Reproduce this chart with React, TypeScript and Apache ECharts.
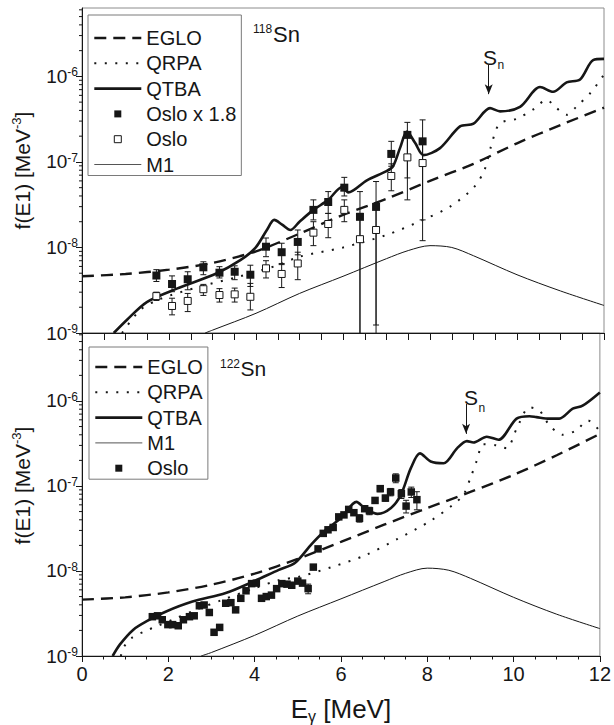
import React, { useEffect, useRef } from "react";
import * as echarts from "echarts";

const FONT = "'Liberation Sans', Arial, Helvetica, sans-serif";
const INK = "#161616";

// ---------- axes ----------
const X_MIN = 0;
const X_MAX = 12;
const X_INTERVAL = 2;
const Y_MIN = 1e-9;
const Y_MAX = 6.3e-6;
const Y_MAJOR = [1e-9, 1e-8, 1e-7, 1e-6];
const Y_MINOR = [
  2e-9, 3e-9, 4e-9, 5e-9, 6e-9, 7e-9, 8e-9, 9e-9,
  2e-8, 3e-8, 4e-8, 5e-8, 6e-8, 7e-8, 8e-8, 9e-8,
  2e-7, 3e-7, 4e-7, 5e-7, 6e-7, 7e-7, 8e-7, 9e-7,
  2e-6, 3e-6, 4e-6, 5e-6, 6e-6,
];

// ---------- 118Sn (top panel) ----------
const egloE118 = [0, 1, 2, 3, 4, 5, 6, 7, 8, 9, 10, 11, 12];
const eglo118 = [4.6e-9, 4.9e-9, 5.5e-9, 6.6e-9, 9.0e-9, 1.45e-8, 2.4e-8, 3.7e-8, 6.0e-8, 9.5e-8, 1.65e-7, 2.7e-7, 4.3e-7];

const qrpaE118 = [0.92, 1.34, 1.8, 2.72, 3.63, 4.5, 5.0, 6.0, 7.0, 7.84, 8.46, 9.0, 9.25, 9.4, 9.6, 10.0, 10.37, 10.68, 10.9, 11.14, 11.37, 11.7, 12.0];
const qrpa118 = [1e-9, 1.86e-9, 2.5e-9, 3.5e-9, 4.6e-9, 6.2e-9, 7.8e-9, 1.0e-8, 1.4e-8, 2.1e-8, 3.0e-8, 5.0e-8, 8.0e-8, 1.5e-7, 2.8e-7, 3.2e-7, 4.1e-7, 5.3e-7, 4.3e-7, 3.55e-7, 4.45e-7, 6.5e-7, 1.05e-6];

const qtbaE118 = [0.73, 1.03, 1.49, 2.18, 3.1, 3.64, 3.98, 4.25, 4.42, 4.6, 4.79, 5.0, 5.32, 5.66, 5.98, 6.12, 6.55, 7.0, 7.15, 7.31, 7.47, 7.66, 7.85, 8.23, 8.69, 9.0, 9.38, 9.61, 10.07, 10.53, 10.83, 11.14, 11.45, 11.75, 12.0];
const qtba118 = [1e-9, 1.42e-9, 2.3e-9, 3.3e-9, 5.0e-9, 7.1e-9, 9.8e-9, 1.6e-8, 2.1e-8, 1.85e-8, 1.6e-8, 2.0e-8, 2.75e-8, 3.6e-8, 5.1e-8, 4.4e-8, 6.1e-8, 7.8e-8, 8.9e-8, 1.45e-7, 2.26e-7, 1.66e-7, 1.2e-7, 1.45e-7, 2.6e-7, 2.8e-7, 4.25e-7, 3.9e-7, 4.4e-7, 7.5e-7, 6.6e-7, 8.5e-7, 9.2e-7, 1.55e-6, 1.6e-6];

const m1E118 = [2.83, 3, 4, 5, 6, 7, 7.5, 8, 8.5, 9, 10, 11, 12];
const m1_118 = [1e-9, 1.08e-9, 1.7e-9, 2.9e-9, 4.6e-9, 7.4e-9, 9.2e-9, 1.05e-8, 1.0e-8, 8.0e-9, 4.8e-9, 3.1e-9, 2.1e-9];

const osloE118 = [1.71, 2.07, 2.43, 2.79, 3.16, 3.51, 3.87, 4.23, 4.59, 4.96, 5.32, 5.66, 6.03, 6.39, 6.76, 7.11, 7.48, 7.83];
const oslo18_118 = [4.7e-9, 3.74e-9, 4.25e-9, 5.86e-9, 5.07e-9, 5.2e-9, 4.8e-9, 1.02e-8, 8.8e-9, 1.16e-8, 2.75e-8, 3.4e-8, 5.0e-8, 2.28e-8, 2.98e-8, 1.24e-7, 2.07e-7, 1.74e-7];
const oslo18Hi_118 = [5.5e-9, 4.65e-9, 5.2e-9, 6.8e-9, 5.96e-9, 6.1e-9, 6.2e-9, 1.29e-8, 1.12e-8, 1.6e-8, 3.6e-8, 4.5e-8, 6.6e-8, 4.5e-8, 5.9e-8, 1.74e-7, 2.9e-7, 3.1e-7];
const oslo18Lo_118 = [4.0e-9, 3.04e-9, 3.2e-9, 4.8e-9, 4.4e-9, 4.2e-9, 3.5e-9, 7.8e-9, 6.5e-9, 8.2e-9, 2.1e-8, 2.5e-8, 4.0e-8, 5e-10, 5e-10, 8.9e-8, 6.5e-8, 2.1e-8];
const oslo_118 = [2.7e-9, 2.07e-9, 2.37e-9, 3.25e-9, 2.78e-9, 2.83e-9, 2.65e-9, 5.7e-9, 4.9e-9, 6.5e-9, 1.49e-8, 1.88e-8, 2.75e-8, 1.25e-8, 1.6e-8, 6.85e-8, 1.13e-7, 9.7e-8];
const osloHi_118 = [3.0e-9, 2.55e-9, 2.9e-9, 3.7e-9, 3.3e-9, 3.35e-9, 3.8e-9, 7.0e-9, 6.3e-9, 8.8e-9, 2.0e-8, 2.5e-8, 3.6e-8, 2.5e-8, 3.3e-8, 9.5e-8, 2.0e-7, 1.7e-7];
const osloLo_118 = [2.4e-9, 1.63e-9, 1.78e-9, 2.75e-9, 2.3e-9, 2.3e-9, 1.86e-9, 4.4e-9, 3.4e-9, 4.2e-9, 1.05e-8, 1.3e-8, 2.0e-8, 5e-10, 1.24e-9, 4.6e-8, 3.6e-8, 1.2e-8];

const snE118 = 9.35;
const snArrow118 = [1.36e-6, 6.2e-7];

// ---------- 122Sn (bottom panel) ----------
const egloE122 = [0, 1, 2, 3, 4, 5, 6, 7, 8, 9, 10, 11, 12];
const eglo122 = [4.6e-9, 4.9e-9, 5.6e-9, 6.9e-9, 9.3e-9, 1.39e-8, 2.2e-8, 3.5e-8, 5.5e-8, 8.5e-8, 1.35e-7, 2.3e-7, 4.1e-7];

const qrpaE122 = [0.9, 0.96, 1.15, 1.45, 1.76, 2.1, 2.64, 3.25, 3.94, 4.56, 5.01, 5.78, 6.55, 7.31, 8.08, 8.61, 8.84, 9.0, 9.15, 9.3, 9.61, 9.84, 10.07, 10.37, 10.6, 10.83, 11.14, 11.45, 11.72, 12.0];
const qrpa122 = [1e-9, 1.25e-9, 1.63e-9, 1.95e-9, 2.27e-9, 2.67e-9, 3.49e-9, 4.57e-9, 6.1e-9, 7.8e-9, 8.5e-9, 1.11e-8, 1.52e-8, 2.38e-8, 3.9e-8, 6.1e-8, 7.9e-8, 1.24e-7, 2.0e-7, 3.1e-7, 3.0e-7, 2.77e-7, 4.7e-7, 8.4e-7, 7.7e-7, 5.2e-7, 4.0e-7, 4.5e-7, 5.9e-7, 4.4e-7];

const qtbaE122 = [0.71, 0.88, 1.19, 1.49, 1.95, 2.56, 3.33, 3.94, 4.56, 4.94, 5.32, 5.63, 6.01, 6.36, 6.55, 6.85, 7.16, 7.39, 7.62, 7.83, 8.08, 8.38, 8.69, 8.92, 9.07, 9.38, 9.65, 10.07, 10.37, 10.53, 10.83, 11.06, 11.37, 11.6, 12.0];
const qtba122 = [1e-9, 1.37e-9, 2.04e-9, 2.55e-9, 3.34e-9, 4.37e-9, 5.5e-9, 7.4e-9, 1.03e-8, 1.25e-8, 2.07e-8, 2.97e-8, 4.25e-8, 6.5e-8, 5.5e-8, 4.7e-8, 5.5e-8, 7.9e-8, 1.62e-7, 2.42e-7, 1.94e-7, 1.85e-7, 2.77e-7, 3.37e-7, 3.25e-7, 3.8e-7, 3.5e-7, 6.2e-7, 6.6e-7, 6.45e-7, 6.2e-7, 6.2e-7, 8.1e-7, 8.8e-7, 1.26e-6];

const m1E122 = [2.76, 3, 4, 5, 6, 7, 7.5, 8, 8.5, 9, 10, 11, 12];
const m1_122 = [1e-9, 1.1e-9, 1.75e-9, 2.95e-9, 4.7e-9, 7.5e-9, 9.4e-9, 1.08e-8, 1.02e-8, 8.2e-9, 4.9e-9, 3.1e-9, 2.1e-9];

const osloE122 = [1.63, 1.75, 1.86, 1.99, 2.1, 2.23, 2.35, 2.49, 2.6, 2.72, 2.83, 2.95, 3.06, 3.19, 3.33, 3.45, 3.56, 3.68, 3.8, 3.93, 4.04, 4.16, 4.27, 4.39, 4.51, 4.63, 4.75, 4.86, 5.0, 5.11, 5.24, 5.36, 5.47, 5.59, 5.7, 5.82, 5.95, 6.07, 6.18, 6.3, 6.43, 6.55, 6.66, 6.79, 6.91, 7.03, 7.15, 7.27, 7.4, 7.51, 7.63, 7.76];
const oslo122 = [2.9e-9, 2.97e-9, 2.67e-9, 2.34e-9, 2.34e-9, 2.27e-9, 2.67e-9, 2.9e-9, 2.97e-9, 3.9e-9, 3.98e-9, 3.25e-9, 1.9e-9, 2.17e-9, 4.17e-9, 4.24e-9, 3.49e-9, 4.77e-9, 5.85e-9, 7.1e-9, 7.2e-9, 4.77e-9, 5.0e-9, 5.2e-9, 6.2e-9, 7.1e-9, 7.0e-9, 6.8e-9, 7.6e-9, 7.2e-9, 6.2e-9, 1.11e-8, 1.82e-8, 2.77e-8, 3.05e-8, 3.25e-8, 4.33e-8, 4.57e-8, 5.3e-8, 4.85e-8, 4.17e-8, 5.4e-8, 5.1e-8, 6.76e-8, 9.3e-8, 7.2e-8, 8.5e-8, 1.24e-7, 8.1e-8, 5.8e-8, 8.5e-8, 6.9e-8];
const osloRelErr122 = [0.05, 0.05, 0.05, 0.05, 0.05, 0.05, 0.05, 0.05, 0.05, 0.05, 0.05, 0.05, 0.05, 0.05, 0.05, 0.05, 0.05, 0.05, 0.05, 0.05, 0.05, 0.05, 0.05, 0.05, 0.05, 0.05, 0.05, 0.05, 0.06, 0.06, 0.13, 0.06, 0.06, 0.06, 0.06, 0.06, 0.06, 0.06, 0.06, 0.06, 0.1, 0.06, 0.1, 0.06, 0.08, 0.08, 0.1, 0.12, 0.12, 0.17, 0.14, 0.24];

const snE122 = 8.9;
const snArrow122 = [9.2e-7, 4.1e-7];

// ---------- helpers ----------
const zip = (xs: number[], ys: number[]) => xs.map((x, i) => [x, ys[i]]);

const EGLO_STYLE = { color: INK, width: 2.4, type: [12, 7] as any };
const QRPA_STYLE = { color: INK, width: 2, type: [2, 8.5] as any };
const QTBA_STYLE = { color: INK, width: 2.6, type: "solid" };
const M1_STYLE = { color: INK, width: 1, type: "solid" };

function lineSeries(name: string, xs: number[], ys: number[], idx: number, style: any, extra: any = {}) {
  return {
    type: "line",
    name,
    xAxisIndex: idx,
    yAxisIndex: idx,
    data: zip(xs, ys),
    symbol: "none",
    smooth: 0.3,
    lineStyle: style,
    itemStyle: { color: INK },
    silent: true,
    z: 2,
    ...extra,
  };
}

function errorSeries(name: string, xs: number[], lo: number[], hi: number[], idx: number) {
  return {
    type: "custom",
    name,
    xAxisIndex: idx,
    yAxisIndex: idx,
    silent: true,
    z: 3,
    encode: { x: 0, y: [1, 2] },
    data: xs.map((x, i) => [x, lo[i], hi[i]]),
    renderItem: (_p: any, api: any) => {
      const x = api.value(0);
      const l = api.value(1);
      const h = api.value(2);
      const top = api.coord([x, h]);
      const bot = api.coord([x, Math.max(l, Y_MIN)]);
      const st = { stroke: INK, lineWidth: 1 };
      const hw = 3;
      const children: any[] = [
        { type: "line", shape: { x1: top[0], y1: top[1], x2: bot[0], y2: bot[1] }, style: st },
        { type: "line", shape: { x1: top[0] - hw, y1: top[1], x2: top[0] + hw, y2: top[1] }, style: st },
      ];
      if (l >= Y_MIN) {
        children.push({ type: "line", shape: { x1: bot[0] - hw, y1: bot[1], x2: bot[0] + hw, y2: bot[1] }, style: st });
      }
      return { type: "group", children };
    },
  };
}

function minorTickSeries(idx: number) {
  return {
    type: "custom",
    name: "minor" + idx,
    xAxisIndex: idx,
    yAxisIndex: idx,
    silent: true,
    z: 5,
    encode: { x: 0, y: 1 },
    data: Y_MINOR.map((v) => [X_MIN, v]),
    renderItem: (_p: any, api: any) => {
      const p = api.coord([api.value(0), api.value(1)]);
      return {
        type: "line",
        shape: { x1: p[0] - 3, y1: p[1], x2: p[0], y2: p[1] },
        style: { stroke: INK, lineWidth: 1 },
      };
    },
  };
}

const yLabelFormatter = (v: number) => {
  const l = Math.log10(v);
  const e = Math.round(l);
  if (Math.abs(l - e) > 1e-6) return "";
  return `{b|10}{s|${e}}`;
};

function yAxis(idx: number, namePad: number) {
  return {
    type: "log",
    logBase: 10,
    gridIndex: idx,
    min: Y_MIN,
    max: Y_MAX,
    axisLine: { show: true, lineStyle: { color: INK, width: 1 } },
    axisTick: { show: true, inside: false, length: 6, lineStyle: { color: INK }, customValues: Y_MAJOR },
    minorTick: { show: false },
    splitLine: { show: false },
    axisLabel: {
      customValues: Y_MAJOR,
      margin: 4,
      formatter: yLabelFormatter,
      rich: {
        b: { fontSize: 19, lineHeight: 20, color: INK, fontFamily: FONT },
        s: { fontSize: 12, lineHeight: 12, color: INK, fontFamily: FONT, verticalAlign: "top" },
      },
    },
    name: "{a|f(E1) [MeV}{s|-3}{a|]}",
    nameLocation: "middle",
    nameRotate: 90,
    nameGap: 48,
    nameTextStyle: {
      padding: [0, 0, 0, namePad],
      rich: {
        a: { fontSize: 21, lineHeight: 24, color: INK, fontFamily: FONT },
        s: { fontSize: 13, lineHeight: 13, color: INK, fontFamily: FONT, verticalAlign: "top" },
      },
    },
  };
}

function xAxis(idx: number, bottom: boolean) {
  return {
    type: "value",
    gridIndex: idx,
    min: X_MIN,
    max: X_MAX,
    interval: X_INTERVAL,
    axisLine: { show: true, onZero: false, lineStyle: { color: INK, width: 1 } },
    axisTick: { show: true, inside: false, length: bottom ? 6 : 7, lineStyle: { color: INK } },
    minorTick: { show: true, splitNumber: 4, length: bottom ? 3.5 : 7, lineStyle: { color: INK } },
    splitLine: { show: false },
    axisLabel: bottom
      ? { show: true, fontSize: 20, color: INK, fontFamily: FONT, margin: 8 }
      : { show: false },
    ...(bottom
      ? {
          name: "{a|E}{g|γ}{a| [MeV]}",
          nameLocation: "middle",
          nameGap: 38,
          nameTextStyle: {
            rich: {
              a: { fontSize: 26, lineHeight: 30, color: INK, fontFamily: FONT },
              g: { fontSize: 16, lineHeight: 16, color: INK, fontFamily: FONT, verticalAlign: "bottom" },
            },
          },
        }
      : {}),
  };
}

const SQUARE = "path://M0,0L10,0L10,10L0,10Z";
const hideSym = { opacity: 0 };

function legendBase(left: number, top: number, padTop: number) {
  return {
    orient: "vertical",
    left,
    top,
    itemWidth: 47,
    itemHeight: 7,
    itemGap: 5.3,
    padding: [padTop, 5, 1, 5],
    borderColor: "#7a7a7a",
    borderWidth: 1,
    selectedMode: false,
    textStyle: { fontSize: 20, lineHeight: 20, color: INK, fontFamily: FONT },
  };
}

const legEGLO = { name: "EGLO", itemStyle: hideSym, lineStyle: { width: 2.4, type: [12, 7] } };
const legQRPA = { name: "QRPA", itemStyle: hideSym, lineStyle: { width: 2, type: [2, 8.5] } };
const legQTBA = { name: "QTBA", itemStyle: hideSym, lineStyle: { width: 2.6, type: "solid" } };
const legM1 = { name: "M1", itemStyle: hideSym, lineStyle: { width: 1, type: "solid", color: "#555" } };

function buildOption() {
  return {
    animation: false,
    textStyle: { fontFamily: FONT, color: INK },
    grid: [
      { left: 82, right: 10, top: 8, height: 325, show: true, borderColor: "#8c8c8c", borderWidth: 1, backgroundColor: "transparent" },
      { left: 82, right: 10, top: 333, height: 327, show: true, borderColor: "#8c8c8c", borderWidth: 1, backgroundColor: "transparent" },
    ],
    xAxis: [xAxis(0, false), xAxis(1, true)],
    yAxis: [yAxis(0, 0), yAxis(1, 18)],
    legend: [
      {
        ...legendBase(88, 15, 13),
        data: [
          legEGLO,
          legQRPA,
          legQTBA,
          { name: "Oslo x 1.8", icon: SQUARE, itemStyle: { color: INK, borderWidth: 0, opacity: 1 } },
          { name: "Oslo", icon: SQUARE, itemStyle: { color: "#fff", borderColor: INK, borderWidth: 1, opacity: 1 } },
          legM1,
        ],
      },
      {
        ...legendBase(89, 347, 10),
        data: [legEGLO, legQRPA, legQTBA, legM1, { name: "Oslo 122", icon: SQUARE, itemStyle: { color: INK, borderWidth: 0, opacity: 1 } }],
        formatter: (n: string) => (n === "Oslo 122" ? "Oslo" : n),
      },
    ],
    series: [
      // ---- top: 118Sn ----
      lineSeries("M1", m1E118, m1_118, 0, M1_STYLE),
      lineSeries("EGLO", egloE118, eglo118, 0, EGLO_STYLE),
      lineSeries("QRPA", qrpaE118, qrpa118, 0, QRPA_STYLE),
      lineSeries("QTBA", qtbaE118, qtba118, 0, QTBA_STYLE, {
        markLine: {
          silent: true,
          symbol: ["none", "arrow"],
          symbolSize: [6, 10],
          label: { show: false },
          lineStyle: { color: INK, width: 1, type: "solid" },
          data: [[{ coord: [snE118, snArrow118[0]] }, { coord: [snE118, snArrow118[1]] }]],
        },
      }),
      errorSeries("err18", osloE118, oslo18Lo_118, oslo18Hi_118, 0),
      errorSeries("err1", osloE118, osloLo_118, osloHi_118, 0),
      {
        type: "scatter",
        name: "Oslo x 1.8",
        xAxisIndex: 0,
        yAxisIndex: 0,
        symbol: "rect",
        symbolSize: 8,
        itemStyle: { color: INK, opacity: 1 },
        data: zip(osloE118, oslo18_118),
        z: 4,
      },
      {
        type: "scatter",
        name: "Oslo",
        xAxisIndex: 0,
        yAxisIndex: 0,
        symbol: "rect",
        symbolSize: 7,
        itemStyle: { color: "#fff", borderColor: INK, borderWidth: 1, opacity: 1 },
        data: zip(osloE118, oslo_118),
        z: 4,
      },
      minorTickSeries(0),
      // ---- bottom: 122Sn ----
      lineSeries("M1", m1E122, m1_122, 1, M1_STYLE),
      lineSeries("EGLO", egloE122, eglo122, 1, EGLO_STYLE),
      lineSeries("QRPA", qrpaE122, qrpa122, 1, QRPA_STYLE),
      lineSeries("QTBA", qtbaE122, qtba122, 1, QTBA_STYLE, {
        markLine: {
          silent: true,
          symbol: ["none", "arrow"],
          symbolSize: [6, 10],
          label: { show: false },
          lineStyle: { color: INK, width: 1, type: "solid" },
          data: [[{ coord: [snE122, snArrow122[0]] }, { coord: [snE122, snArrow122[1]] }]],
        },
      }),
      errorSeries(
        "err122",
        osloE122,
        oslo122.map((v, i) => v * (1 - osloRelErr122[i])),
        oslo122.map((v, i) => v * (1 + osloRelErr122[i])),
        1
      ),
      {
        type: "scatter",
        name: "Oslo 122",
        xAxisIndex: 1,
        yAxisIndex: 1,
        symbol: "rect",
        symbolSize: 7.5,
        itemStyle: { color: INK, opacity: 1 },
        data: zip(osloE122, oslo122),
        z: 4,
      },
      minorTickSeries(1),
    ],
    graphic: [
      { type: "text", x: 253, y: 28.5, style: { text: "118", fontSize: 12, fontFamily: FONT, fill: INK, textAlign: "left", textVerticalAlign: "middle" } },
      { type: "text", x: 273, y: 34, style: { text: "Sn", fontSize: 22, fontFamily: FONT, fill: INK, textAlign: "left", textVerticalAlign: "middle" } },
      { type: "text", x: 220, y: 363.5, style: { text: "122", fontSize: 12, fontFamily: FONT, fill: INK, textAlign: "left", textVerticalAlign: "middle" } },
      { type: "text", x: 240.5, y: 368, style: { text: "Sn", fontSize: 21, fontFamily: FONT, fill: INK, textAlign: "left", textVerticalAlign: "middle" } },
      { type: "text", x: 490, y: 57.5, style: { text: "S", fontSize: 21, fontFamily: FONT, fill: INK, textAlign: "center", textVerticalAlign: "middle" } },
      { type: "text", x: 497.5, y: 65, style: { text: "n", fontSize: 12, fontFamily: FONT, fill: INK, textAlign: "left", textVerticalAlign: "middle" } },
      { type: "text", x: 471, y: 397.5, style: { text: "S", fontSize: 21, fontFamily: FONT, fill: INK, textAlign: "center", textVerticalAlign: "middle" } },
      { type: "text", x: 478.5, y: 407.5, style: { text: "n", fontSize: 12, fontFamily: FONT, fill: INK, textAlign: "left", textVerticalAlign: "middle" } },
    ],
  };
}

export default function App() {
  const ref = useRef<HTMLDivElement>(null);
  useEffect(() => {
    if (!ref.current) return;
    const chart = echarts.init(ref.current, undefined, { renderer: "svg" });
    chart.setOption(buildOption() as any);
    return () => chart.dispose();
  }, []);
  return (
    <div
      ref={ref}
      style={{ position: "fixed", left: 0, top: 0, width: 614, height: 725, background: "#fff" }}
    />
  );
}
